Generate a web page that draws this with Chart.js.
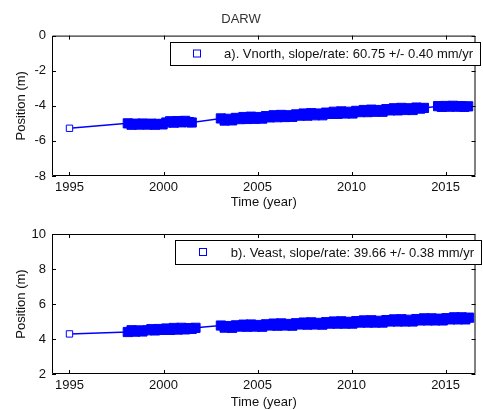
<!DOCTYPE html>
<html>
<head>
<meta charset="utf-8">
<script src="https://cdn.jsdelivr.net/npm/chart.js@4.4.0/dist/chart.umd.min.js"></script>
<style>
  body { margin: 0; background: #fff; }
  #wrap { position: relative; width: 483px; height: 410px; }
  canvas { position: absolute; left: 0; }
</style>
</head>
<body>
<div id="wrap">
  <canvas id="northChart" width="483" height="210" style="top:0"></canvas>
  <canvas id="eastChart" width="483" height="200" style="top:210px"></canvas>
</div>
<script>
// station DARW, positions (m)
const xTicks = [1995, 2000, 2005, 2010, 2015];
const yTicksNorth = [0, -2, -4, -6, -8];
const yTicksEast = [2, 4, 6, 8, 10];

const timeNorth = [
  1995.00,
  1998.10, 1998.30, 1998.50, 1998.70, 1998.88,
  1999.15, 1999.35, 1999.55, 1999.75, 1999.95,
  2000.15, 2000.35, 2000.55, 2000.75, 2000.95, 2001.15, 2001.35, 2001.50,
  2003.05, 2003.25, 2003.45, 2003.65, 2003.85, 2004.05, 2004.25, 2004.45, 2004.65, 2004.85,
  2005.05, 2005.25, 2005.45, 2005.65, 2005.85, 2006.05, 2006.25, 2006.45, 2006.65, 2006.85,
  2007.05, 2007.25, 2007.45, 2007.65, 2007.85, 2008.05, 2008.25, 2008.45, 2008.65, 2008.85,
  2009.05, 2009.25, 2009.45, 2009.65, 2009.85, 2010.05, 2010.25, 2010.45, 2010.65, 2010.85,
  2011.05, 2011.25, 2011.45, 2011.65, 2011.85, 2012.05, 2012.25, 2012.45, 2012.65, 2012.85,
  2013.05, 2013.25, 2013.45, 2013.65, 2013.85,
  2014.60, 2014.80, 2015.00, 2015.20, 2015.40, 2015.60, 2015.80, 2016.00, 2016.20
];
const vNorth = [
  -5.28,
  -5.00, -5.08, -5.02, -5.07, -5.01,
  -5.07, -5.02, -5.08, -5.03, -5.06,
  -4.95, -4.88, -4.96, -4.87, -4.94, -4.86, -4.93, -4.95,
  -4.72, -4.84, -4.74, -4.83, -4.69, -4.76, -4.64, -4.75, -4.62, -4.74,
  -4.64, -4.73, -4.59, -4.66, -4.54, -4.65, -4.52, -4.64, -4.54, -4.63,
  -4.49, -4.56, -4.44, -4.56, -4.42, -4.54, -4.44, -4.54, -4.39, -4.46,
  -4.34, -4.46, -4.32, -4.44, -4.34, -4.44, -4.29, -4.36, -4.24, -4.36,
  -4.22, -4.34, -4.24, -4.34, -4.19, -4.26, -4.14, -4.26, -4.12, -4.24,
  -4.14, -4.24, -4.10, -4.16, -4.12,
  -4.02, -4.06, -4.01, -4.05, -4.00, -4.05, -4.02, -4.06, -4.03
];

const timeEast = [
  1995.00,
  1998.10, 1998.30, 1998.50, 1998.70, 1998.88,
  1999.15, 1999.35, 1999.55, 1999.75, 1999.95,
  2000.15, 2000.35, 2000.55, 2000.75, 2000.95, 2001.15, 2001.35, 2001.50, 2001.70,
  2003.05, 2003.25, 2003.45, 2003.65, 2003.85, 2004.05, 2004.25, 2004.45, 2004.65, 2004.85,
  2005.05, 2005.25, 2005.45, 2005.65, 2005.85, 2006.05, 2006.25, 2006.45, 2006.65, 2006.85,
  2007.05, 2007.25, 2007.45, 2007.65, 2007.85, 2008.05, 2008.25, 2008.45, 2008.65, 2008.85,
  2009.05, 2009.25, 2009.45, 2009.65, 2009.85, 2010.05, 2010.25, 2010.45, 2010.65, 2010.85,
  2011.05, 2011.25, 2011.45, 2011.65, 2011.85, 2012.05, 2012.25, 2012.45, 2012.65, 2012.85,
  2013.05, 2013.25, 2013.45, 2013.65, 2013.85, 2014.05, 2014.25, 2014.45, 2014.65, 2014.85,
  2015.05, 2015.25, 2015.45, 2015.65, 2015.85, 2016.05, 2016.25
];
const vEast = [
  4.29,
  4.40, 4.50, 4.42, 4.49, 4.43,
  4.50, 4.56, 4.49, 4.57, 4.52,
  4.60, 4.52, 4.63, 4.54, 4.64, 4.55, 4.62, 4.58, 4.64,
  4.77, 4.65, 4.74, 4.64, 4.78, 4.71, 4.82, 4.70, 4.83, 4.71,
  4.80, 4.70, 4.84, 4.77, 4.88, 4.76, 4.89, 4.77, 4.86, 4.76,
  4.90, 4.83, 4.94, 4.82, 4.95, 4.83, 4.92, 4.82, 4.96, 4.88,
  5.00, 4.88, 5.01, 4.88, 4.98, 4.88, 5.02, 4.94, 5.06, 4.94,
  5.07, 4.94, 5.04, 4.94, 5.08, 5.00, 5.12, 5.00, 5.13, 5.00,
  5.10, 5.00, 5.14, 5.06, 5.18, 5.06, 5.18, 5.06, 5.16, 5.06,
  5.19, 5.12, 5.24, 5.12, 5.24, 5.12, 5.22
];

const BLUE = "#0000ff";
const FONT = "'Liberation Sans', Arial, sans-serif";

// box, inward ticks on all four sides, and the legend box in the corner
const matlabAxes = {
  id: "matlabAxes",
  afterDraw(chart, args, opts) {
    const { ctx, chartArea: a, scales } = chart;
    const tl = 4;
    ctx.save();
    ctx.strokeStyle = "#000";
    ctx.lineWidth = 1;
    ctx.beginPath();
    ctx.rect(a.left + 0.5, a.top + 0.5, a.right - a.left - 1, a.bottom - a.top - 1);
    xTicks.forEach((v) => {
      const px = Math.round(scales.x.getPixelForValue(v)) + 0.5;
      ctx.moveTo(px, a.top); ctx.lineTo(px, a.top + tl);
      ctx.moveTo(px, a.bottom); ctx.lineTo(px, a.bottom - tl);
    });
    opts.yTicks.forEach((v) => {
      const py = Math.round(scales.y.getPixelForValue(v)) + 0.5;
      ctx.moveTo(a.left, py); ctx.lineTo(a.left + tl, py);
      ctx.moveTo(a.right, py); ctx.lineTo(a.right - tl, py);
    });
    ctx.stroke();

    // legend
    const lg = opts.legend;
    ctx.fillStyle = "#fff";
    ctx.fillRect(lg.x, lg.y, lg.w, lg.h);
    ctx.strokeRect(lg.x + 0.5, lg.y + 0.5, lg.w, lg.h);
    const cy = lg.y + lg.h / 2;
    ctx.strokeStyle = BLUE;
    ctx.strokeRect(lg.mx - 3.5, cy - 3.5, 7, 7);
    ctx.fillStyle = "#111";
    ctx.font = "13px " + FONT;
    ctx.textAlign = "right";
    ctx.textBaseline = "middle";
    ctx.fillText(lg.text, lg.x + lg.w - 7, cy + 1);
    ctx.restore();
  },
};

function makeChart(id, times, values, yMin, yMax, yTicks, legend, withTitle, xHeight) {
  const ctx = document.getElementById(id).getContext("2d");
  return new Chart(ctx, {
    type: "scatter",
    data: {
      datasets: [
        {
          data: times.map((t, i) => ({ x: t, y: values[i] })),
          showLine: true,
          borderColor: BLUE,
          borderWidth: 1.5,
          pointStyle: "rect",
          pointRadius: times.map((t, i) => (i === 0 ? 4.5 : 6.5)),
          pointBorderWidth: 1,
          pointBorderColor: BLUE,
          pointBackgroundColor: times.map((t, i) => (i === 0 ? "#fff" : BLUE)),
        },
      ],
    },
    options: {
      responsive: false,
      animation: false,
      layout: { padding: { top: withTitle ? 0 : 24, right: 1, left: 0, bottom: 0 } },
      plugins: {
        legend: { display: false },
        tooltip: { enabled: false },
        title: {
          display: withTitle,
          text: "DARW",
          color: "#333",
          font: { family: FONT, size: 13, weight: "normal" },
          padding: { top: 12, bottom: 8 },
        },
        matlabAxes: { yTicks: yTicks, legend: legend },
      },
      scales: {
        x: {
          type: "linear",
          min: 1994.07,
          max: 2016.59,
          grid: { display: false, drawTicks: false },
          border: { display: false },
          afterBuildTicks: (s) => { s.ticks = xTicks.map((v) => ({ value: v })); },
          afterFit: (s) => { s.height = xHeight; },
          ticks: { color: "#111", padding: 4, maxRotation: 0, font: { family: FONT, size: 13 }, callback: (v) => String(v) },
          title: { display: true, text: "Time (year)", color: "#111", font: { family: FONT, size: 13 }, padding: { top: 0, bottom: 0 } },
        },
        y: {
          min: yMin,
          max: yMax,
          grid: { display: false, drawTicks: false },
          border: { display: false },
          afterBuildTicks: (s) => { s.ticks = yTicks.map((v) => ({ value: v })); },
          afterFit: (s) => { s.width = 52; },
          ticks: { color: "#111", padding: 6, font: { family: FONT, size: 13 } },
          title: { display: true, text: "Position (m)", color: "#111", font: { family: FONT, size: 13 }, padding: { top: 14, bottom: 0 } },
        },
      },
    },
    plugins: [matlabAxes],
  });
}

makeChart("northChart", timeNorth, vNorth, -8, 0, yTicksNorth,
  { x: 170, y: 42, w: 310, h: 23, mx: 197, text: "a). Vnorth, slope/rate: 60.75 +/- 0.40 mm/yr" },
  true, 34);
makeChart("eastChart", timeEast, vEast, 2, 10, yTicksEast,
  { x: 175, y: 30, w: 306, h: 24, mx: 203, text: "b). Veast, slope/rate: 39.66 +/- 0.38 mm/yr" },
  false, 36);
</script>
</body>
</html>
